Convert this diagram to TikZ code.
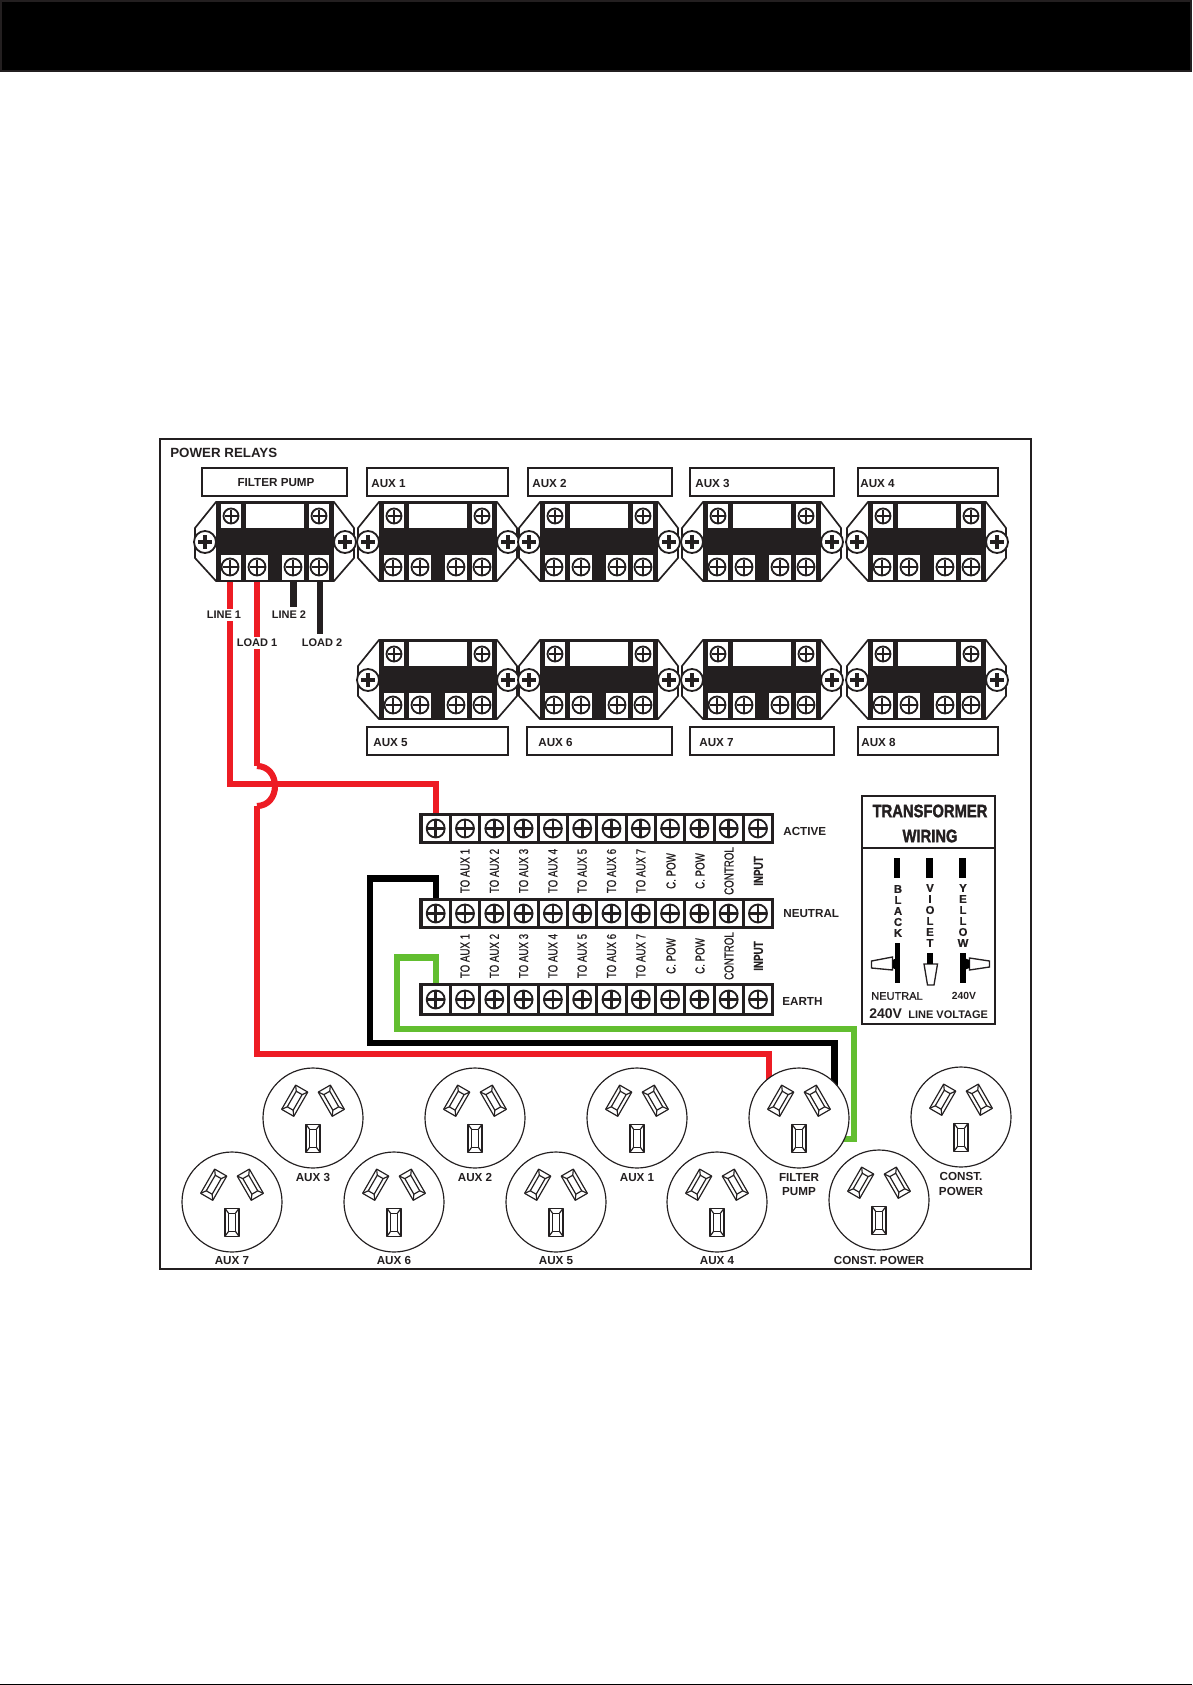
\documentclass[tikz,border=0pt]{standalone}
\usepackage{fontspec}
\setmainfont{Liberation Sans}
\newfontfamily\vfont{Liberation Sans}[FakeBold=0.8]
\newfontfamily\heavy{Liberation Sans Bold}[FakeBold=2]
\newfontfamily\semi{Liberation Sans Bold}[FakeBold=0.6]
\usetikzlibrary{calc,backgrounds}
\definecolor{ink}{HTML}{231F20}
\definecolor{redw}{HTML}{ED1C24}
\definecolor{greenw}{HTML}{62BE30}
\tikzset{
  txt/.style={inner sep=0pt,text=ink,font=\bfseries\fontsize{7}{8}\selectfont},
  txts/.style={inner sep=0pt,text=ink,font=\vfont\fontsize{6.6}{8}\selectfont},
  vlab/.style={inner sep=0pt,text=ink,rotate=90,font=\vfont\fontsize{7.8}{9}\selectfont},
  vlabb/.style={vlab,font=\semi\fontsize{7.8}{9}\selectfont},
  tag/.style={draw=ink,line width=1.2pt,fill=white,inner sep=0pt,minimum height=16.6pt},
  wbox/.style={fill=white,draw=none,inner sep=0pt},
  screwn/.style={circle,draw=ink,fill=white,inner sep=0pt,line width=1.1pt},
  crossl/.style={draw=ink},
  wire/.style={line width=3.7pt,line join=miter},
  ear/.style={draw=ink,line width=1pt,fill=white,line join=miter},
  pinl/.style={draw=ink,line width=0.7pt,fill=white,line join=round},
  sock/.style={circle,draw=ink,fill=white,line width=0.7pt,inner sep=0pt,minimum size=60pt},
  spade/.style={draw=ink,line width=0.8pt,fill=white},
  bar/.style={fill=black,draw=none},
}
% name, x, y, radius px, arm px, cross width
\newcommand\screw[6]{%
  \node[screwn,minimum size={2*#4*0.6pt}] (#1) at ({#2},{#3}) {};
  \draw[crossl,line width=#6] (#1.center) +({-#5},0) -- +({#5},0);
  \draw[crossl,line width=#6] (#1.center) +(0,{-#5}) -- +(0,{#5});
}
% name, dx, dy
\newcommand\relay[3]{%
  \begin{scope}[shift={(#2,#3)}]
    \draw[ear] (216,502) -- (195,528) -- (195,558) -- (216,581) -- (334,581) -- (354,558) -- (354,528) -- (334,502) -- cycle;
    \node[fill=ink,inner sep=0pt,minimum width=70.8pt,minimum height=47.4pt] (#1body) at (275,541.5) {};
    \node[wbox,minimum width=12pt,minimum height=14.4pt] (#1w1) at (231,516) {};
    \node[wbox,minimum width=34.8pt,minimum height=14.4pt] (#1win) at (275,516) {};
    \node[wbox,minimum width=12pt,minimum height=14.4pt] (#1w2) at (319,516) {};
    \node[wbox,minimum width=12pt,minimum height=15pt] (#1w3) at (230.5,567.5) {};
    \node[wbox,minimum width=13.2pt,minimum height=15pt] (#1w4) at (257,567.5) {};
    \node[wbox,minimum width=13.2pt,minimum height=15pt] (#1w5) at (293,567.5) {};
    \node[wbox,minimum width=12pt,minimum height=15pt] (#1w6) at (319,567.5) {};
    \screw{#1t1}{231}{516}{7.5}{6.5}{1.4pt}
    \screw{#1t2}{319}{516}{7.5}{6.5}{1.4pt}
    \screw{#1b1}{230}{567}{8.5}{7.5}{1.6pt}
    \screw{#1b2}{257}{567}{8.5}{7.5}{1.6pt}
    \screw{#1b3}{293}{567}{8.5}{7.5}{1.6pt}
    \screw{#1b4}{319}{567}{8.5}{7.5}{1.6pt}
    \screw{#1l}{205}{542}{11}{7}{2pt}
    \screw{#1r}{345}{542}{11}{7}{2pt}
  \end{scope}
}
% prefix, top y, bottom y
\newcommand\tstrip[3]{%
  \node[fill=ink,inner sep=0pt,minimum width=213pt,minimum height={(#3-#2)*0.6pt}] (#1bar) at (596.5,{(#2+#3)/2}) {};
  \foreach \i in {0,...,11}{
    \node[wbox,minimum width=15.8pt,minimum height={(#3-#2-6)*0.6pt}] (#1box\i) at ({435.7+29.3*\i},{(#2+#3)/2}) {};
    \screw{#1\i}{435.7+29.3*\i}{(#2+#3)/2}{9}{8.5}{1.6pt}
  }
}
% y-centre of labels, prefix
\newcommand\stripLabels[2]{%
  \foreach \n in {1,...,7}{
    \node[vlab] (#2lab\n) at ({435.7+29.3*\n},#1) {\scalebox{0.75}[1]{TO AUX \n}};
  }
  \node[vlab] (#2labc1) at (671,#1) {\scalebox{0.75}[1]{C. POW}};
  \node[vlab] (#2labc2) at (700,#1) {\scalebox{0.75}[1]{C. POW}};
  \node[vlab] (#2labc3) at (729,#1) {\scalebox{0.75}[1]{CONTROL}};
  \node[vlabb] (#2labc4) at (758.5,#1) {\scalebox{0.75}[1]{INPUT}};
}
\newcommand\onepin{%
  \draw[pinl] (-7,-14) rectangle (7,14);
  \draw[pinl] (-3.4,-9) rectangle (3.4,9);
  \draw[pinl] (-7,-14) -- (-3.4,-9) (7,-14) -- (3.4,-9) (-7,14) -- (-3.4,9) (7,14) -- (3.4,9);
}
\newcommand\socket[3]{%
  \node[sock] (#1) at (#2,#3) {};
  \begin{scope}[shift={(#2,#3)}]
    \begin{scope}[shift={(-18.3,-17.3)},rotate=-30]\onepin\end{scope}
    \begin{scope}[shift={(18.3,-17.3)},rotate=30]\onepin\end{scope}
    \begin{scope}[shift={(0,20.3)}]\onepin\end{scope}
  \end{scope}
}
\begin{document}
\begin{tikzpicture}[x=0.6pt,y=-0.6pt]
\useasboundingbox (0,0) rectangle (1192,1685);
% top band and foot line
\draw[fill=black,draw=ink,line width=1.2pt] (1,1) rectangle (1191,71);
\fill[black] (0,1684) rectangle (1192,1685);
% frame
\node[draw=ink,line width=1.2pt,inner sep=0pt,minimum width=522.6pt,minimum height=498pt] (frame) at (595.5,854) {};
\node[txt,anchor=west,font=\bfseries\fontsize{8}{9}\selectfont] (title) at (170,453) {POWER RELAYS};
% tags
\node[tag,minimum width=87pt] (tagfp) at (274.5,482) {};
\node[txt] (tagfpt) at (276,483) {FILTER PUMP};
\foreach \nm/\xa/\xb/\xt/\yt in {AUX 1/367/508/371/483.5, AUX 2/528/672/532/483.5, AUX 3/690/834/695/483.5, AUX 4/858/998/860/483.5, AUX 5/367/508/373/742.5, AUX 6/527/672/538/742.5, AUX 7/690/834/699/742.5, AUX 8/858/998/861/742.5}{
  \node[tag,minimum width={(\xb-\xa)*0.6pt}] (tag\xa-\yt) at ({(\xa+\xb)/2},\yt-1.5) {};
  \node[txt,anchor=west] (tagt\xa-\yt) at (\xt,\yt) {\nm};
}
% relays
\relay{fp}{0}{0}
\relay{ra}{163}{0}
\relay{rb}{324}{0}
\relay{rc}{487}{0}
\relay{rd}{652}{0}
\relay{re}{163}{138}
\relay{rf}{324}{138}
\relay{rg}{487}{138}
\relay{rh}{652}{138}
% terminal strips
\tstrip{a}{813}{844}
\tstrip{n}{898}{929}
\tstrip{e}{983}{1016}
\stripLabels{871}{up}
\stripLabels{956}{lo}
\node[txt,anchor=west] (lactive) at (783,831) {ACTIVE};
\node[txt,anchor=west] (lneutral) at (783,914) {NEUTRAL};
\node[txt,anchor=west] (learth) at (782,1001) {EARTH};
% sockets
\socket{sA3}{313}{1118}
\socket{sA2}{475}{1118}
\socket{sA1}{637}{1118}
\socket{sFP}{799}{1118}
\socket{sCa}{961}{1117}
\socket{sA7}{232}{1202}
\socket{sA6}{394}{1202}
\socket{sA5}{556}{1202}
\socket{sA4}{717}{1202}
\socket{sCb}{879}{1200}
\foreach \nm/\x/\y/\id in {AUX 3/313/1177/a, AUX 2/475/1177/b, AUX 1/637/1178/c, AUX 7/232/1261/d, AUX 6/394/1260/f, AUX 5/556/1261/g, AUX 4/717/1261/h, CONST. POWER/879/1260/i, FILTER/799/1177/j, PUMP/799/1192/k, CONST./961/1176/l, POWER/961/1191/m}{
  \node[txt] (sl\id) at (\x,\y) {\nm};
}
% wire labels
\node[txt,font=\bfseries\fontsize{6.6}{8}\selectfont,fill=white,inner ysep=1.4pt] (line1) at (224,615) {LINE 1};
\node[txt,font=\bfseries\fontsize{6.6}{8}\selectfont] (line2) at (289,615) {LINE 2};
\node[txt,font=\bfseries\fontsize{6.6}{8}\selectfont,fill=white,inner ysep=1.4pt] (load1) at (257,643) {LOAD 1};
\node[txt,font=\bfseries\fontsize{6.6}{8}\selectfont] (load2) at (322,643) {LOAD 2};
% wires, behind everything
\coordinate (jr) at (435.7,784);
\coordinate (ja) at (257,766);
\coordinate (jb) at (257,806);
\coordinate (jrl) at (769,1054);
\coordinate (jn1) at (370,878.5);
\coordinate (jn2) at (834.5,1043);
\coordinate (jg1) at (397,957.5);
\coordinate (jg2) at (854,1029);
\coordinate (jg3) at (854,1139);
\coordinate (jl2) at (293.5,607);
\coordinate (jl4) at (320,634);
\begin{scope}[on background layer]
  \draw[wire,redw] (fpb1.south) |- (jr) -- (a0.north);
  \draw[wire,redw] (fpb2.south) -- (ja);
  \draw[wire,redw] (ja) .. controls (268,766) and (275,775) .. (275,786) .. controls (275,797) and (268,806) .. (jb);
  \draw[wire,redw] (jb) |- (jrl) -- (jrl |- sFP.center);
  \draw[wire,black] (n0.north) |- (jn1) |- (jn2) -- (jn2 |- sFP.center);
  \draw[wire,greenw] (e0.north) |- (jg1) |- (jg2) -- (jg3) -- (jg3 -| sFP.center);
  \draw[wire,ink] (fpb3.south -| jl2) -- (jl2);
  \draw[wire,ink] (fpb4.south -| jl4) -- (jl4);
\end{scope}
% transformer panel
\node[draw=ink,line width=0.9pt,inner sep=0pt,minimum width=79.8pt,minimum height=136.8pt] (tf) at (928.5,910) {};
\coordinate (tfd) at (928.5,848);
\draw[ink,line width=0.9pt] (tf.west |- tfd) -- (tf.east |- tfd);
\node[txt,font=\heavy\fontsize{10.8}{12}\selectfont] (tft1) at (930,811) {\scalebox{0.82}[1]{TRANSFORMER}};
\node[txt,font=\heavy\fontsize{10.8}{12}\selectfont] (tft2) at (930,836) {\scalebox{0.82}[1]{WIRING}};
\node[bar,minimum width=3.6pt,minimum height=12pt,inner sep=0pt] (wb1) at (897,868) {};
\node[bar,minimum width=3.9pt,minimum height=12pt,inner sep=0pt] (wv1) at (929.5,868) {};
\node[bar,minimum width=3.9pt,minimum height=12pt,inner sep=0pt] (wy1) at (962.5,868) {};
\foreach \c [count=\k from 0] in {B,L,A,C,K}{
  \node[txt,font=\semi\fontsize{6.8}{8}\selectfont] (lb\k) at (898,{889+11*\k}) {\c};
}
\foreach \c [count=\k from 0] in {V,I,O,L,E,T}{
  \node[txt,font=\semi\fontsize{6.8}{8}\selectfont] (lv\k) at (930,{888+11*\k}) {\c};
}
\foreach \c [count=\k from 0] in {Y,E,L,L,O,W}{
  \node[txt,font=\semi\fontsize{6.8}{8}\selectfont] (ly\k) at (963,{888+11*\k}) {\c};
}
\draw[spade] (892.5,957) -- (871.5,961) -- (871.5,968) -- (892.5,970) -- cycle;
\draw[spade] (969.5,958) -- (989.5,961) -- (989.5,967) -- (969.5,970) -- cycle;
\draw[spade] (924,964) -- (937.5,964) -- (934,985) -- (927.5,985) -- cycle;
\fill[black] (892.5,960) -- (897,958) -- (897,970) -- (892.5,968) -- cycle;
\fill[black] (969.5,960) -- (964,958) -- (964,970) -- (969.5,968) -- cycle;
\node[bar,minimum width=3.3pt,minimum height=24pt,inner sep=0pt] (wb2) at (897.5,963) {};
\node[bar,minimum width=3.3pt,minimum height=7pt,inner sep=0pt] (wv2) at (930,958.5) {};
\node[bar,minimum width=3.3pt,minimum height=18pt,inner sep=0pt] (wy2) at (963,968) {};
\node[txts] (tfn) at (897,996) {NEUTRAL};
\node[txt,font=\bfseries\fontsize{6.2}{8}\selectfont] (tf240) at (964,996) {240V};
\node[txt,font=\bfseries\fontsize{8.4}{9}\selectfont,anchor=west] (tf240b) at (869,1014) {240V};
\node[txt,font=\bfseries\fontsize{6.6}{8}\selectfont,anchor=west] (tflv) at (908,1015) {LINE VOLTAGE};
\end{tikzpicture}
\end{document}
